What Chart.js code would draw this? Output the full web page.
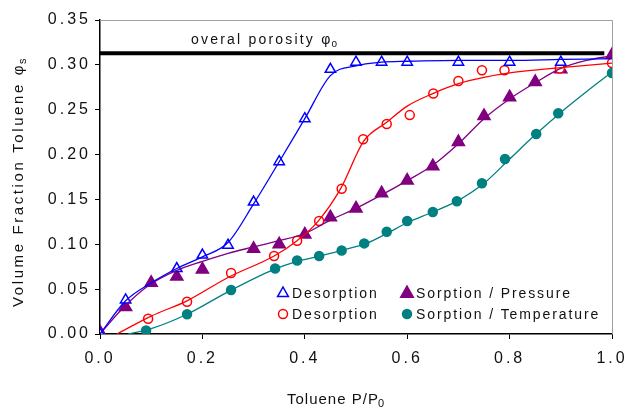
<!DOCTYPE html>
<html>
<head>
<meta charset="utf-8">
<script src="https://cdn.jsdelivr.net/npm/chart.js@4/dist/chart.umd.min.js"></script>
<style>
  html, body { margin: 0; padding: 0; background: #fff; }
  #wrap { width: 628px; height: 408px; }
</style>
</head>
<body>
<div id="wrap"><canvas id="porosityChart" width="628" height="408"></canvas></div>
<script>
// axis ticks
const xTicks = [0, 0.2, 0.4, 0.6, 0.8, 1.0];
const yTicks = [0, 0.05, 0.1, 0.15, 0.2, 0.25, 0.3, 0.35];

// overall porosity line
const porosity = 0.313;
const porosityX = [0, 0.985];

const desTriX = [0, 0.05, 0.15, 0.2, 0.25, 0.3, 0.35, 0.4, 0.45, 0.5, 0.55, 0.6, 0.7, 0.8, 0.9];
const desTriY = [0.0, 0.038, 0.073, 0.088, 0.099, 0.147, 0.192, 0.240, 0.295, 0.303, 0.303, 0.303, 0.303, 0.303, 0.303];

const desCircX = [0.094, 0.17, 0.256, 0.34, 0.385, 0.428, 0.472, 0.514, 0.56, 0.605, 0.651, 0.70, 0.746, 0.79, 0.898, 1.0];
const desCircY = [0.017, 0.036, 0.068, 0.087, 0.104, 0.126, 0.162, 0.217, 0.234, 0.244, 0.268, 0.282, 0.294, 0.294, 0.296, 0.302];

const sorpPresX = [0, 0.05, 0.1, 0.15, 0.2, 0.3, 0.35, 0.4, 0.45, 0.5, 0.55, 0.6, 0.65, 0.7, 0.75, 0.8, 0.85, 0.9, 1.0];
const sorpPresY = [0.002, 0.030, 0.057, 0.064, 0.072, 0.095, 0.100, 0.111, 0.130, 0.140, 0.157, 0.171, 0.187, 0.214, 0.243, 0.264, 0.281, 0.295, 0.311];

const sorpTempX = [0.09, 0.17, 0.256, 0.342, 0.385, 0.428, 0.472, 0.516, 0.56, 0.6, 0.65, 0.697, 0.746, 0.791, 0.852, 0.895, 1.0];
const sorpTempY = [0.004, 0.022, 0.049, 0.073, 0.082, 0.087, 0.093, 0.101, 0.114, 0.126, 0.136, 0.148, 0.168, 0.195, 0.223, 0.246, 0.291];

// fitted curves
const desTriFitX = [0, 0.05, 0.1, 0.15, 0.2, 0.25, 0.3, 0.35, 0.4, 0.45, 0.5, 0.55, 0.6, 0.7, 0.8, 0.9, 1.0];
const desTriFitY = [0, 0.037, 0.057, 0.073, 0.086, 0.102, 0.145, 0.192, 0.240, 0.288, 0.299, 0.303, 0.304, 0.305, 0.305, 0.306, 0.307];

const desCircFitX = [0.033, 0.1, 0.17, 0.25, 0.34, 0.385, 0.425, 0.47, 0.515, 0.56, 0.6, 0.65, 0.7, 0.75, 0.8, 0.9, 1.0];
const desCircFitY = [0, 0.02, 0.037, 0.063, 0.087, 0.104, 0.125, 0.162, 0.215, 0.236, 0.254, 0.268, 0.279, 0.286, 0.291, 0.297, 0.302];

const sorpPresFitX = [0, 0.05, 0.1, 0.15, 0.2, 0.25, 0.3, 0.35, 0.4, 0.45, 0.5, 0.55, 0.6, 0.65, 0.7, 0.75, 0.8, 0.85, 0.9, 0.95, 1.0];
const sorpPresFitY = [0, 0.032, 0.056, 0.071, 0.081, 0.090, 0.097, 0.104, 0.112, 0.127, 0.140, 0.155, 0.171, 0.188, 0.212, 0.240, 0.262, 0.280, 0.296, 0.305, 0.310];

const sorpTempFitX = [0.055, 0.1, 0.17, 0.25, 0.34, 0.385, 0.43, 0.47, 0.52, 0.56, 0.6, 0.65, 0.7, 0.75, 0.8, 0.85, 0.9, 0.95, 1.0];
const sorpTempFitY = [0, 0.006, 0.022, 0.047, 0.072, 0.081, 0.087, 0.093, 0.101, 0.112, 0.124, 0.136, 0.149, 0.168, 0.195, 0.222, 0.247, 0.270, 0.292];

const FONT = "'Liberation Sans', Arial, sans-serif";

function toPoints(xs, ys) {
    return xs.map((x, i) => ({ x: x, y: ys[i] }));
}

function curve(xs, ys, color) {
    return {
        data: toPoints(xs, ys),
        borderColor: color,
        borderWidth: 1.3,
        pointRadius: 0,
        fill: false,
        cubicInterpolationMode: "monotone",
    };
}

function markers(xs, ys, style, color, filled, radius) {
    return {
        data: toPoints(xs, ys),
        showLine: false,
        pointStyle: style,
        pointRadius: radius,
        pointBorderWidth: 1.5,
        pointBorderColor: color,
        pointBackgroundColor: filled ? color : "#fff",
    };
}

// text with a small subscript after it
function subText(ctx, text, sub, x, y, size) {
    ctx.font = `${size}px ${FONT}`;
    ctx.textAlign = "left";
    ctx.textBaseline = "alphabetic";
    ctx.fillText(text, x, y);
    const w = ctx.measureText(text).width;
    ctx.font = `${Math.round(size * 0.7)}px ${FONT}`;
    ctx.fillText(sub, x + w - 1, y + 3);
}

// legend entries
const legendItems = [
    { label: "Desorption", style: "triangle", color: "#0000ff", filled: false, col: 0, row: 0 },
    { label: "Sorption / Pressure", style: "triangle", color: "#800080", filled: true, col: 1, row: 0 },
    { label: "Desorption", style: "circle", color: "#ff0000", filled: false, col: 0, row: 1 },
    { label: "Sorption / Temperature", style: "circle", color: "#008080", filled: true, col: 1, row: 1 },
];

function drawMarker(ctx, style, color, filled, x, y) {
    ctx.save();
    ctx.lineWidth = 1.5;
    ctx.strokeStyle = color;
    ctx.fillStyle = filled ? color : "#fff";
    ctx.beginPath();
    if (style === "triangle") {
        const r = filled ? 7 : 6;
        ctx.moveTo(x, y - r);
        ctx.lineTo(x + r * 0.9, y + r * 0.6);
        ctx.lineTo(x - r * 0.9, y + r * 0.6);
        ctx.closePath();
    } else {
        ctx.arc(x, y, 4.5, 0, Math.PI * 2);
    }
    ctx.fill();
    ctx.stroke();
    ctx.restore();
}

const spacingPlugin = {
    id: "spacing",
    beforeLayout(chart) { chart.ctx.letterSpacing = "3px"; },
    beforeDraw(chart) { chart.ctx.letterSpacing = "3px"; },
};

const extrasPlugin = {
    id: "extras",
    afterDraw(chart) {
        const ctx = chart.ctx;
        const area = chart.chartArea;
        ctx.save();

        // grey frame on top and right
        ctx.strokeStyle = "#a0a0a0";
        ctx.lineWidth = 1;
        ctx.beginPath();
        ctx.moveTo(area.left, area.top + 0.5);
        ctx.lineTo(area.right + 0.5, area.top + 0.5);
        ctx.lineTo(area.right + 0.5, area.bottom);
        ctx.stroke();

        ctx.fillStyle = "#111";

        // porosity label
        ctx.letterSpacing = "2.2px";
        subText(ctx, "overal porosity \u03c6", "o", 191, 44, 14);

        // x title
        ctx.letterSpacing = "1px";
        subText(ctx, "Toluene P/P", "0", 287, 404, 15);

        // y title
        ctx.save();
        ctx.translate(23, 307);
        ctx.rotate(-Math.PI / 2);
        ctx.letterSpacing = "2.6px";
        subText(ctx, "Volume Fraction Toluene \u03c6", "s", 0, 0, 15);
        ctx.restore();

        // legend
        ctx.letterSpacing = "1.9px";
        legendItems.forEach(item => {
            const mx = item.col === 0 ? 283 : 407;
            const my = item.row === 0 ? 293 : 314;
            drawMarker(ctx, item.style, item.color, item.filled, mx, my);
            ctx.fillStyle = "#111";
            ctx.font = `14px ${FONT}`;
            ctx.textAlign = "left";
            ctx.textBaseline = "middle";
            ctx.fillText(item.label, mx + 9, my + 1);
        });

        ctx.restore();
    },
};

function createPorosityChart() {
    const ctx = document.getElementById("porosityChart");

    new Chart(ctx.getContext("2d"), {
        type: "line",
        data: {
            datasets: [
                {
                    data: toPoints(porosityX, [porosity, porosity]),
                    borderColor: "#000",
                    borderWidth: 4,
                    pointRadius: 0,
                },
                curve(desTriFitX, desTriFitY, "#0000ff"),
                curve(desCircFitX, desCircFitY, "#ff0000"),
                curve(sorpPresFitX, sorpPresFitY, "#800080"),
                curve(sorpTempFitX, sorpTempFitY, "#008080"),
                markers(desTriX, desTriY, "triangle", "#0000ff", false, 6),
                markers(desCircX, desCircY, "circle", "#ff0000", false, 4.5),
                markers(sorpPresX, sorpPresY, "triangle", "#800080", true, 7),
                markers(sorpTempX, sorpTempY, "circle", "#008080", true, 4.5),
            ],
        },
        options: {
            responsive: false,
            animation: false,
            layout: { padding: { left: 0, right: 16, top: 20, bottom: 0 } },
            plugins: {
                legend: { display: false },
                tooltip: { enabled: false },
            },
            scales: {
                x: {
                    type: "linear",
                    min: 0,
                    max: 1,
                    afterBuildTicks: (scale) => { scale.ticks = xTicks.map(v => ({ value: v })); },
                    afterFit: (scale) => {
                        scale.height = 74;
                        scale.paddingLeft = 0;
                        scale.paddingRight = 0;
                    },
                    grid: { drawOnChartArea: false, tickLength: 5, color: "#000" },
                    border: { color: "#000", width: 1.5 },
                    ticks: {
                        color: "#111",
                        font: { family: FONT, size: 16 },
                        padding: 10,
                        maxRotation: 0,
                        callback: (v) => v.toFixed(1),
                    },
                },
                y: {
                    min: 0,
                    max: 0.35,
                    afterBuildTicks: (scale) => { scale.ticks = yTicks.map(v => ({ value: v })); },
                    afterFit: (scale) => {
                        scale.width = 100;
                        scale.paddingTop = 0;
                        scale.paddingBottom = 0;
                    },
                    grid: { drawOnChartArea: false, tickLength: 5, color: "#000" },
                    border: { color: "#000", width: 1.5 },
                    ticks: {
                        color: "#111",
                        font: { family: FONT, size: 16 },
                        padding: 4,
                        callback: (v) => v.toFixed(2),
                    },
                },
            },
        },
        plugins: [spacingPlugin, extrasPlugin],
    });
}

document.addEventListener("DOMContentLoaded", createPorosityChart);
</script>
</body>
</html>
